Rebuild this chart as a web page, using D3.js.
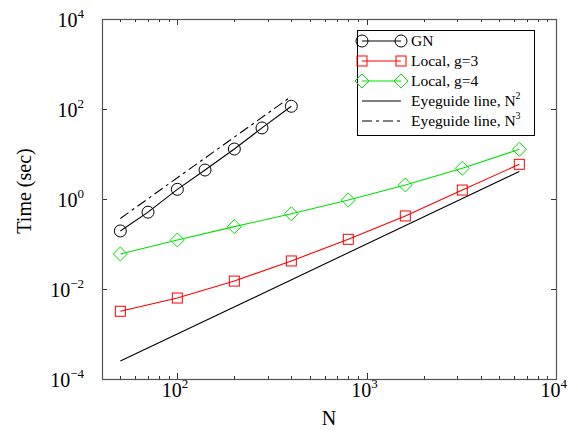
<!DOCTYPE html>
<html>
<head>
<meta charset="utf-8">
<script src="https://cdn.jsdelivr.net/npm/d3@7"></script>
<style>
  body { margin: 0; background: #fff; }
  svg text { font-family: "Liberation Serif", "DejaVu Serif", Times, serif; }
</style>
</head>
<body>
<svg id="chart" width="578" height="441" font-family="Liberation Serif, DejaVu Serif, serif"></svg>
<script>
// data
const nGN = [50, 70, 100, 140, 200, 280, 400];
const tGN = [0.195, 0.51, 1.64, 4.4, 12.9, 38, 115];
const nLocal = [50, 100, 200, 400, 800, 1600, 3200, 6400];
const tLocal3 = [0.0032, 0.0063, 0.015, 0.042, 0.127, 0.42, 1.58, 5.9];
const tLocal4 = [0.06, 0.123, 0.243, 0.47, 0.95, 2.05, 4.8, 12.7];
const nGuide2 = [50, 6400];
const tGuide2 = [2.5e-4, 4.1];
const nGuide3 = [50, 400];
const tGuide3 = [0.37, 190];
const xTicks = [100, 1000, 10000];
const yTicks = [1e-4, 1e-2, 1, 1e2, 1e4];
const legendLabels = ["GN", "Local, g=3", "Local, g=4", "Eyeguide line, N", "Eyeguide line, N"];

const m = {l: 102, r: 556, t: 19, b: 379};
const svg = d3.select("#chart");

const x = d3.scaleLog().domain([40, 10000]).range([m.l, m.r]);
const y = d3.scaleLog().domain([1e-4, 1e4]).range([m.b, m.t]);

const zip = (a, b) => a.map((v, i) => [v, b[i]]);
const line = d3.line().x(d => x(d[0])).y(d => y(d[1]));

// minor ticks on x (top & bottom)
const minor = [];
for (let e = 1; e <= 3; e++) for (let k = 2; k <= 9; k++) {
  const v = k * Math.pow(10, e);
  if (v > 40 && v < 10000) minor.push(v);
}
const axG = svg.append("g").attr("stroke", "#333").attr("stroke-width", 1);
minor.forEach(v => {
  const px = Math.round(x(v)) + 0.5;
  axG.append("line").attr("x1", px).attr("x2", px).attr("y1", m.b).attr("y2", m.b - 3);
  axG.append("line").attr("x1", px).attr("x2", px).attr("y1", m.t).attr("y2", m.t + 3);
});
xTicks.forEach(v => {
  const px = Math.round(x(v)) + 0.5;
  axG.append("line").attr("x1", px).attr("x2", px).attr("y1", m.b).attr("y2", m.b - 6);
  axG.append("line").attr("x1", px).attr("x2", px).attr("y1", m.t).attr("y2", m.t + 6);
});
yTicks.forEach(v => {
  const py = Math.round(y(v)) + 0.5;
  axG.append("line").attr("x1", m.l).attr("x2", m.l + 5).attr("y1", py).attr("y2", py);
  axG.append("line").attr("x1", m.r).attr("x2", m.r - 5).attr("y1", py).attr("y2", py);
});

// frame
svg.append("rect")
  .attr("x", m.l + 0.5).attr("y", m.t + 0.5)
  .attr("width", m.r - m.l).attr("height", m.b - m.t)
  .attr("fill", "none").attr("stroke", "#555").attr("stroke-width", 1.2);

// tick labels
xTicks.forEach(v => {
  const t = svg.append("text").attr("x", x(v) - 15.5).attr("y", 397)
    .attr("font-size", 20).attr("fill", "#000");
  t.append("tspan").text("10");
  t.append("tspan").attr("dy", -9).attr("font-size", 13).text(Math.round(Math.log10(v)));
});
yTicks.forEach(v => {
  const e = Math.round(Math.log10(v));
  const t = svg.append("text").attr("x", 84).attr("y", y(v) + 8)
    .attr("text-anchor", "end").attr("font-size", 20).attr("fill", "#000");
  t.append("tspan").text("10");
  t.append("tspan").attr("dy", -9).attr("font-size", 13).text(e < 0 ? "\u2212" + (-e) : e);
});

svg.append("text").attr("x", 329).attr("y", 425).attr("text-anchor", "middle")
  .attr("font-size", 20).text("N");
svg.append("text").attr("transform", "translate(31,191) rotate(-90)")
  .attr("text-anchor", "middle").attr("font-size", 20).text("Time (sec)");

// markers
function marker(g, kind, cx, cy, color) {
  if (kind === "circle") {
    g.append("circle").attr("cx", cx).attr("cy", cy).attr("r", 6)
      .attr("fill", "none").attr("stroke", color).attr("stroke-width", 1);
  } else if (kind === "square") {
    g.append("rect").attr("x", cx - 5).attr("y", cy - 5).attr("width", 10).attr("height", 10)
      .attr("fill", "none").attr("stroke", color).attr("stroke-width", 1);
  } else if (kind === "diamond") {
    g.append("path").attr("d", `M${cx},${cy - 7}L${cx + 7},${cy}L${cx},${cy + 7}L${cx - 7},${cy}Z`)
      .attr("fill", "none").attr("stroke", color).attr("stroke-width", 1);
  }
}

const series = [
  {n: nGN, t: tGN, color: "#000", kind: "circle", dash: null},
  {n: nLocal, t: tLocal3, color: "#ff0000", kind: "square", dash: null},
  {n: nLocal, t: tLocal4, color: "#00e000", kind: "diamond", dash: null},
  {n: nGuide2, t: tGuide2, color: "#000", kind: null, dash: null},
  {n: nGuide3, t: tGuide3, color: "#000", kind: null, dash: "10,4,3,4"}
];

const plot = svg.append("g");
series.forEach(s => {
  plot.append("path").datum(zip(s.n, s.t)).attr("d", line)
    .attr("fill", "none").attr("stroke", s.color).attr("stroke-width", 1.1)
    .attr("stroke-dasharray", s.dash);
  if (s.kind) {
    const g = plot.append("g");
    s.n.forEach((n, i) => marker(g, s.kind, x(n), y(s.t[i]), s.color));
  }
});

// legend
const lg = svg.append("g");
lg.append("rect").attr("x", 357.5).attr("y", 30.5).attr("width", 177).attr("height", 105)
  .attr("fill", "#fff").attr("stroke", "#000").attr("stroke-width", 1);
series.forEach((s, i) => {
  const ly = 41 + i * 20;
  lg.append("line").attr("x1", 362).attr("x2", 401).attr("y1", ly).attr("y2", ly)
    .attr("stroke", s.color).attr("stroke-width", 1.1).attr("stroke-dasharray", s.dash);
  if (s.kind) { marker(lg, s.kind, 362, ly, s.color); marker(lg, s.kind, 401, ly, s.color); }
  const t = lg.append("text").attr("x", 411).attr("y", ly + 4.5).attr("font-size", 15.5)
    .text(legendLabels[i]);
  if (i === 3) t.append("tspan").attr("dy", -7).attr("font-size", 10).text("2");
  if (i === 4) t.append("tspan").attr("dy", -7).attr("font-size", 10).text("3");
});
</script>
</body>
</html>
